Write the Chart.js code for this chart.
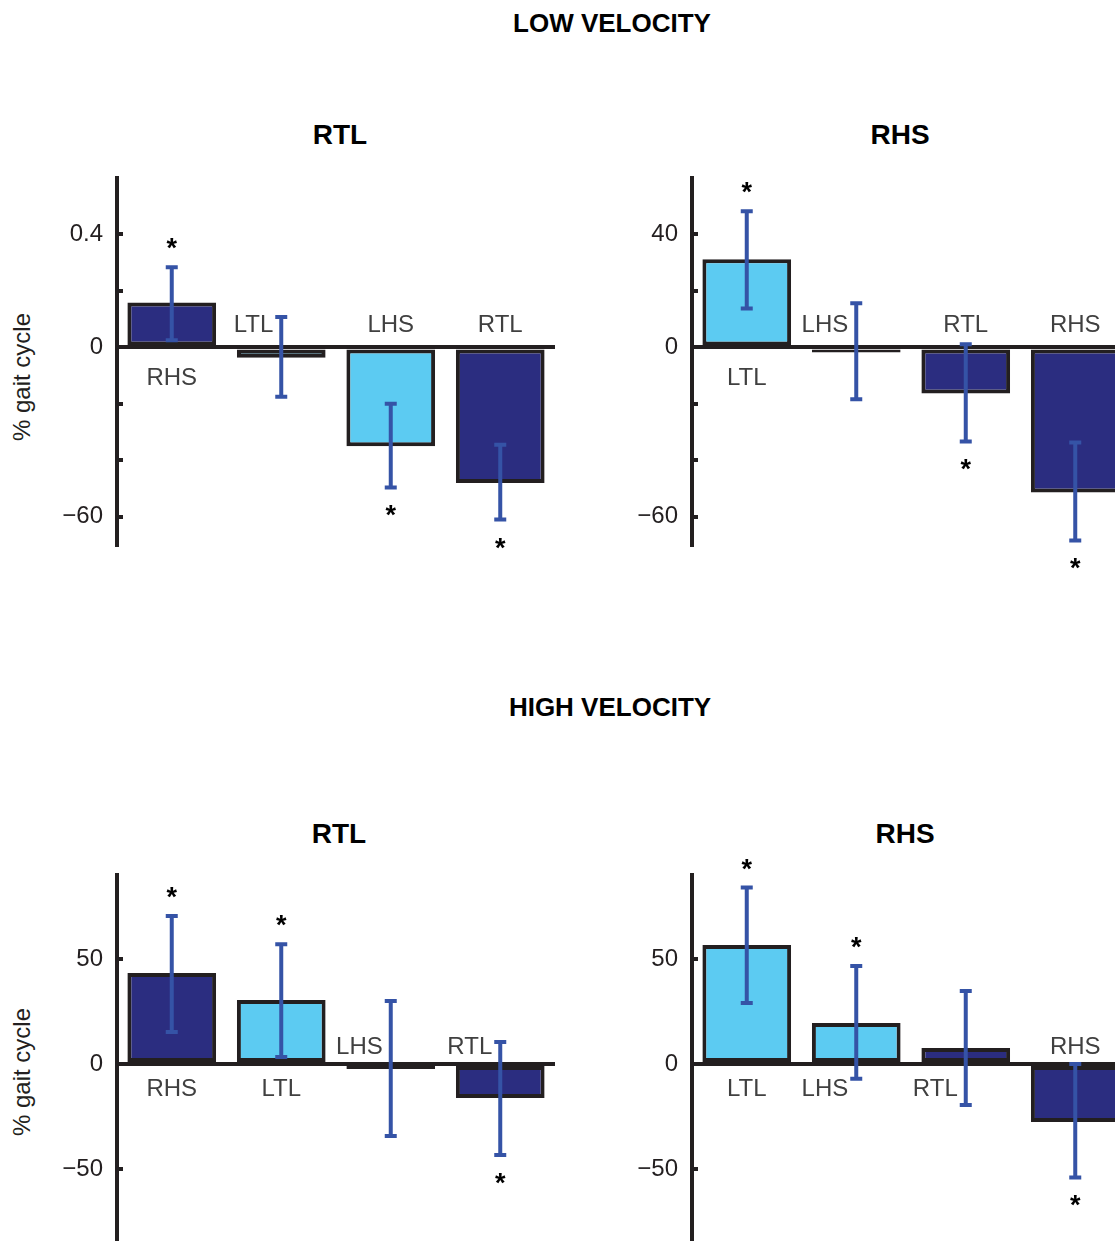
<!DOCTYPE html>
<html>
<head>
<meta charset="utf-8">
<script src="https://cdn.jsdelivr.net/npm/chart.js@4.4.1/dist/chart.umd.min.js"></script>
<style>
  html, body { margin: 0; padding: 0; background: #fff; }
  body { position: relative; width: 1115px; height: 1241px; overflow: hidden; font-family: "Liberation Sans", Arial, sans-serif; }
  canvas { position: absolute; }
  .head { position: absolute; font-weight: bold; color: #000; white-space: nowrap; transform: translateX(-50%); line-height: 1; }
  .ytitle { position: absolute; font-size: 24px; color: #231f20; white-space: nowrap; line-height: 1; transform: translate(-50%, -50%) rotate(-90deg); }
</style>
</head>
<body>
<div class="head" style="left:612px; top:10px; font-size:26px;">LOW VELOCITY</div>
<div class="head" style="left:340px; top:121px; font-size:28px;">RTL</div>
<div class="head" style="left:900px; top:121px; font-size:28px;">RHS</div>
<div class="head" style="left:610px; top:694px; font-size:26px;">HIGH VELOCITY</div>
<div class="head" style="left:339px; top:820px; font-size:28px;">RTL</div>
<div class="head" style="left:905px; top:820px; font-size:28px;">RHS</div>
<div class="ytitle" style="left:22px; top:377px;">% gait cycle</div>
<div class="ytitle" style="left:22px; top:1072px;">% gait cycle</div>

<canvas id="lowRtl"></canvas>
<canvas id="lowRhs"></canvas>
<canvas id="highRtl"></canvas>
<canvas id="highRhs"></canvas>

<script>
// ---- data ----
const lowTicks = [-60, -40, -20, 0, 20, 40];
const lowRtlTickLabels = ['\u221260', '', '', '0', '', '0.4'];
const lowRhsTickLabels = ['\u221260', '', '', '0', '', '40'];
const highTicks = [-50, 0, 50];
const highTickLabels = ['\u221250', '0', '50'];

// LOW VELOCITY, RTL
const lowRtlLabels = ['RHS', 'LTL', 'LHS', 'RTL'];
const lowRtlMeans = [15.9, -3.7, -35, -48];
const lowRtlUpper = [28.4, 10.8, -20, -34.5];
const lowRtlLower = [2.5, -17.5, -49.6, -61];
const lowRtlSig = [true, false, true, true];

// LOW VELOCITY, RHS
const lowRhsLabels = ['LTL', 'LHS', 'RTL', 'RHS'];
const lowRhsMeans = [31.2, -1.8, -16.3, -51.4];
const lowRhsUpper = [48.2, 15.6, 1.1, -33.7];
const lowRhsLower = [13.8, -18.4, -33.3, -68.4];
const lowRhsSig = [true, false, true, true];

// HIGH VELOCITY, RTL
const highRtlLabels = ['RHS', 'LTL', 'LHS', 'RTL'];
const highRtlMeans = [43.3, 30.5, -2.4, -16.2];
const highRtlUpper = [70.5, 57, 30, 10.5];
const highRtlLower = [15.2, 3.3, -34.3, -43.3];
const highRtlSig = [true, true, false, true];

// HIGH VELOCITY, RHS
const highRhsLabels = ['LTL', 'LHS', 'RTL', 'RHS'];
const highRhsMeans = [56.7, 19.5, 7.6, -27.6];
const highRhsUpper = [84, 46.7, 34.8, 0];
const highRhsLower = [29, -7, -19.5, -54];
const highRhsSig = [true, true, false, true];

// ---- style ----
const FONT = '"Liberation Sans", Arial, sans-serif';
const INK = '#231f20';
const NAVY = '#2b2d80';
const CYAN = '#5ccbf2';
const ERR = '#3553a6';
const LABEL = '#404040';
const AXIS_W = 70, AREA_W = 438, PAD_T = 40, PAD_B = 40;

function marks(d, lab) {
    return {
        id: 'marks',
        afterDraw(chart) {
            const ctx = chart.ctx;
            const x = chart.scales.x, y = chart.scales.y;
            const axisX = chart.chartArea.left;
            const zero = y.getPixelForValue(0);
            ctx.save();

            // small tick marks on the inside of the axis
            ctx.fillStyle = INK;
            d.ticks.forEach(v => {
                ctx.fillRect(axisX, Math.round(y.getPixelForValue(v)) - 2, 6, 4);
            });

            d.means.forEach((m, i) => {
                const cx = x.getPixelForValue(i);
                const top = y.getPixelForValue(d.upper[i]);
                const bot = y.getPixelForValue(d.lower[i]);

                // error bar
                ctx.strokeStyle = ERR;
                ctx.lineWidth = 4;
                ctx.beginPath();
                ctx.moveTo(cx, top); ctx.lineTo(cx, bot);
                ctx.moveTo(cx - 6, top); ctx.lineTo(cx + 6, top);
                ctx.moveTo(cx - 6, bot); ctx.lineTo(cx + 6, bot);
                ctx.stroke();

                // significance star
                if (d.sig[i]) {
                    const ay = m >= 0 ? top - 24 : bot + 23;
                    ctx.fillStyle = '#000';
                    ctx.font = 'bold 27px ' + FONT;
                    ctx.textAlign = 'center';
                    ctx.textBaseline = 'alphabetic';
                    ctx.fillText('*', cx, ay + 14);
                }

                // category name on the other side of zero
                const base = m < 0 ? zero - lab.above : zero + lab.below;
                const capTop = base - 20;
                const hit = top < base && bot > capTop;
                ctx.fillStyle = LABEL;
                ctx.font = '24px ' + FONT;
                ctx.textBaseline = 'alphabetic';
                if (hit) {
                    ctx.textAlign = 'right';
                    ctx.fillText(d.labels[i], cx - 8, base);
                } else {
                    ctx.textAlign = 'center';
                    ctx.fillText(d.labels[i], cx, base);
                }
            });
            ctx.restore();
        }
    };
}

function panel(id, axisX, areaTop, areaBottom, d, lab) {
    const cv = document.getElementById(id);
    cv.width = AXIS_W + AREA_W;
    cv.height = PAD_T + (areaBottom - areaTop) + PAD_B;
    cv.style.left = (axisX - AXIS_W) + 'px';
    cv.style.top = (areaTop - PAD_T) + 'px';

    return new Chart(cv, {
        type: 'bar',
        data: {
            labels: d.labels,
            datasets: [{
                data: d.means,
                backgroundColor: d.labels.map(l => l[0] === 'R' ? NAVY : CYAN),
                borderColor: INK,
                borderWidth: 4,
                borderSkipped: false,
                barPercentage: 0.81,
                categoryPercentage: 1
            }]
        },
        options: {
            responsive: false,
            animation: false,
            devicePixelRatio: 1,
            layout: { padding: { top: PAD_T, bottom: PAD_B, left: 0, right: 0 } },
            plugins: { legend: { display: false }, tooltip: { enabled: false } },
            scales: {
                x: { display: false, offset: true, grid: { display: false } },
                y: {
                    min: d.min,
                    max: d.max,
                    afterFit: s => { s.width = AXIS_W; },
                    afterBuildTicks: s => { s.ticks = d.ticks.map(v => ({ value: v })); },
                    ticks: {
                        autoSkip: false,
                        padding: 14,
                        color: INK,
                        font: { family: FONT, size: 24 },
                        callback: (v, i) => d.tickLabels[i]
                    },
                    grid: {
                        drawTicks: false,
                        lineWidth: 4,
                        color: c => (c.tick && c.tick.value === 0) ? INK : 'rgba(0,0,0,0)'
                    },
                    border: { display: true, width: 4, color: INK }
                }
            }
        },
        plugins: [marks(d, lab)]
    });
}

const topRow = { above: 15, below: 38 };
const bottomRow = { above: 10, below: 32 };

panel('lowRtl', 117, 178, 545, {
    labels: lowRtlLabels, means: lowRtlMeans, upper: lowRtlUpper, lower: lowRtlLower, sig: lowRtlSig,
    ticks: lowTicks, tickLabels: lowRtlTickLabels, min: -70, max: 60
}, topRow);

panel('lowRhs', 692, 178, 545, {
    labels: lowRhsLabels, means: lowRhsMeans, upper: lowRhsUpper, lower: lowRhsLower, sig: lowRhsSig,
    ticks: lowTicks, tickLabels: lowRhsTickLabels, min: -70, max: 60
}, topRow);

panel('highRtl', 117, 875, 1253, {
    labels: highRtlLabels, means: highRtlMeans, upper: highRtlUpper, lower: highRtlLower, sig: highRtlSig,
    ticks: highTicks, tickLabels: highTickLabels, min: -90, max: 90
}, bottomRow);

panel('highRhs', 692, 875, 1253, {
    labels: highRhsLabels, means: highRhsMeans, upper: highRhsUpper, lower: highRhsLower, sig: highRhsSig,
    ticks: highTicks, tickLabels: highTickLabels, min: -90, max: 90
}, bottomRow);
</script>
</body>
</html>
